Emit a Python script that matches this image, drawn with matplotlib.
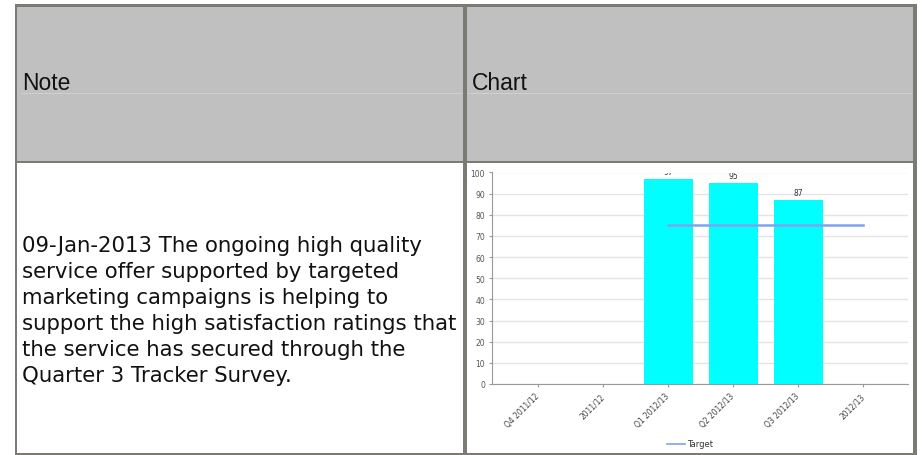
import numpy as np
import matplotlib.pyplot as plt
import matplotlib.transforms as mtransforms
from matplotlib.patches import Rectangle
from matplotlib.lines import Line2D

# ---------------------------------------------------------------
# Data
# ---------------------------------------------------------------
categories = ["Q4 2011/12", "2011/12", "Q1 2012/13", "Q2 2012/13", "Q3 2012/13", "2012/13"]
satisfaction = [None, None, 97, 95, 87, None]
target = [None, None, 75, 75, 75, 75]
y_ticks = [0, 10, 20, 30, 40, 50, 60, 70, 80, 90, 100]

headers = ["Note", "Chart"]
note_text = ("09-Jan-2013 The ongoing high quality\n"
             "service offer supported by targeted\n"
             "marketing campaigns is helping to\n"
             "support the high satisfaction ratings that\n"
             "the service has secured through the\n"
             "Quarter 3 Tracker Survey.")

W, H = 923, 456
BORDER = "#7b7b73"
HEADER_BG = "#c0c0c0"

fig = plt.figure(figsize=(W / 100, H / 100), dpi=100)


def px_rect(x0, y0, x1, y1, color, z=1):
    # rectangle given in pixel coords (origin top-left)
    fig.add_artist(Rectangle((x0 / W, 1 - y1 / H), (x1 - x0) / W, (y1 - y0) / H,
                             transform=fig.transFigure, facecolor=color,
                             edgecolor="none", zorder=z))


# table: header row + borders
px_rect(17, 7, 913, 162, HEADER_BG)
px_rect(21, 93.5, 462, 94.5, "#cfcfcf", 2)
px_rect(467, 93.5, 912, 94.5, "#cfcfcf", 2)
px_rect(15, 5, 917, 7.5, BORDER, 3)      # top
px_rect(15, 161.7, 917, 164, BORDER, 3)  # header bottom
px_rect(15, 454, 917, 456, BORDER, 3)    # bottom
px_rect(15, 5, 17, 456, BORDER, 3)       # left
px_rect(463.3, 5, 466.7, 456, BORDER, 3)  # middle
px_rect(913.3, 5, 917, 456, BORDER, 3)   # right

fig.text(22 / W, 1 - 90 / H, headers[0], fontsize=16.5, family="Liberation Sans",
         va="baseline", ha="left", color="#111111")
fig.text(472 / W, 1 - 90 / H, headers[1], fontsize=16.5, family="Liberation Sans",
         va="baseline", ha="left", color="#111111")

fig.text(22 / W, 1 - 311 / H, note_text, fontsize=15.3, family="DejaVu Sans",
         va="center", ha="left", linespacing=1.38, color="#111111")

# ---------------------------------------------------------------
# The chart inside the right cell
# ---------------------------------------------------------------
ax = fig.add_axes([492 / W, 1 - 385 / H, (908 - 492) / W, (385 - 173.5) / H])

x = np.arange(len(categories))
bar_x = [i for i, v in enumerate(satisfaction) if v is not None]
bar_v = [satisfaction[i] for i in bar_x]
ax.bar(bar_x, bar_v, width=0.75, color="#00ffff", zorder=2)

for i, v in zip(bar_x, bar_v):
    ax.text(i, v + 3.6, str(v), ha="center", va="center", fontsize=5.5,
            color="#333333", clip_on=True, zorder=4)

target_vals = [np.nan if v is None else v for v in target]
ax.plot(x, target_vals, color="#7fa3ee", lw=1.8, zorder=3)

ax.set_xlim(-0.71, 5.69)
ax.set_ylim(0, 100)
ax.set_yticks(y_ticks)
ax.set_xticks(x)
ax.set_xticklabels(categories, rotation=45, ha="right", va="center",
                   rotation_mode="anchor")
shift = mtransforms.ScaledTranslation(4 / 100, 0, fig.dpi_scale_trans)
for lbl in ax.get_xticklabels():
    lbl.set_transform(lbl.get_transform() + shift)

ax.yaxis.grid(True, color="#e4e4e4", lw=1)
ax.set_axisbelow(True)
for s in ["top", "right"]:
    ax.spines[s].set_visible(False)
for s in ["left", "bottom"]:
    ax.spines[s].set_color("#999999")
    ax.spines[s].set_linewidth(0.8)

ax.tick_params(axis="y", length=2, color="#999999", pad=3, labelsize=5.5,
               labelcolor="#555555")
ax.tick_params(axis="x", length=2.5, color="#999999", pad=5, labelsize=5.5,
               labelcolor="#444444")

handle = Line2D([], [], color="#7fa3ee", lw=1.2)
fig.legend([handle], ["Target"], loc="center", bbox_to_anchor=(690 / W, 1 - 445 / H),
           frameon=False, fontsize=6, handlelength=2.2, handletextpad=0.3,
           labelcolor="#333333")

fig.savefig("out.png", dpi=100)
